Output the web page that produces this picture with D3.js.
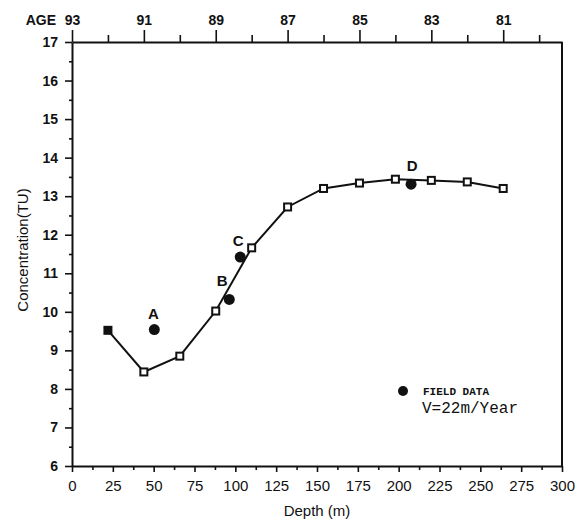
<!DOCTYPE html>
<html>
<head>
<meta charset="utf-8">
<script src="https://cdn.jsdelivr.net/npm/d3@7"></script>
<style>
  body { margin: 0; background: #fff; }
  svg text { font-family: "Liberation Sans", Arial, sans-serif; fill: #111; }
</style>
</head>
<body>
<svg width="583" height="526"></svg>
<script>
// model curve, one point per year (V = 22 m/year)
var modelDepth = [22, 44, 66, 88, 110, 132, 154, 176, 198, 220, 242, 264];
var modelConc = [9.52, 8.44, 8.85, 10.02, 11.66, 12.72, 13.2, 13.34, 13.44, 13.41, 13.37, 13.2];

// field samples
var fieldLabel = ["A", "B", "C", "D"];
var fieldDepth = [50.4, 96.3, 103, 207.6];
var fieldConc = [9.54, 10.32, 11.42, 13.31];

var xTicks = [0, 25, 50, 75, 100, 125, 150, 175, 200, 225, 250, 275, 300];
var yTicks = [6, 7, 8, 9, 10, 11, 12, 13, 14, 15, 16, 17];
var ageTicks = [93, 91, 89, 87, 85, 83, 81];
var ageMinor = [92, 90, 88, 86, 84, 82, 80];

var svg = d3.select("svg"),
    mLeft = 72, mRight = 562, mTop = 42, mBottom = 466;

var x = d3.scaleLinear().domain([0, 300]).range([mLeft, mRight]);
var y = d3.scaleLinear().domain([6, 17]).range([mBottom, mTop]);
// age at depth 0 is 93, one year per 22 m
var age = d3.scaleLinear().domain([93, 93 - 300 / 22]).range([mLeft, mRight]);

function styleAxis(g) {
  g.selectAll("path, line").attr("stroke", "#111").attr("stroke-width", 1.6);
  g.select(".domain").attr("stroke-width", 2);
  g.selectAll("text").attr("font-size", 14).attr("font-weight", "bold").attr("fill", "#111");
}

// minor ticks first
svg.append("g").attr("transform", "translate(0," + mBottom + ")")
    .call(d3.axisBottom(x).tickValues(d3.range(12.5, 300, 25)).tickSize(4).tickFormat(""))
    .call(styleAxis).select(".domain").remove();
svg.append("g").attr("transform", "translate(" + mLeft + ",0)")
    .call(d3.axisLeft(y).tickValues(d3.range(6.5, 17, 1)).tickSize(3).tickFormat(""))
    .call(styleAxis).select(".domain").remove();
svg.append("g").attr("transform", "translate(0," + mTop + ")")
    .call(d3.axisTop(age).tickValues(ageMinor).tickSize(7).tickFormat(""))
    .call(styleAxis).select(".domain").remove();

// major ticks
var xAxis = svg.append("g").attr("transform", "translate(0," + mBottom + ")")
    .call(d3.axisBottom(x).tickValues(xTicks).tickSize(6).tickSizeOuter(0).tickPadding(8))
    .call(styleAxis);
xAxis.selectAll("text").attr("font-weight", "normal").attr("font-size", 15);

svg.append("g").attr("transform", "translate(" + mLeft + ",0)")
    .call(d3.axisLeft(y).tickValues(yTicks).tickSize(7).tickSizeOuter(0).tickPadding(7))
    .call(styleAxis);

svg.append("g").attr("transform", "translate(0," + mTop + ")")
    .call(d3.axisTop(age).tickValues(ageTicks).tickSize(12).tickSizeOuter(0).tickPadding(5))
    .call(styleAxis);

// right frame
svg.append("line")
    .attr("x1", mRight).attr("x2", mRight).attr("y1", mTop).attr("y2", mBottom)
    .attr("stroke", "#111").attr("stroke-width", 2);

svg.append("text").attr("x", 56).attr("y", 25).attr("text-anchor", "end")
    .attr("font-size", 14).attr("font-weight", "bold").text("AGE");

svg.append("text").attr("x", (mLeft + mRight) / 2).attr("y", 516).attr("text-anchor", "middle")
    .attr("font-size", 15).text("Depth (m)");

svg.append("text").attr("transform", "translate(28,250) rotate(-90)").attr("text-anchor", "middle")
    .attr("font-size", 15).text("Concentration(TU)");

// model line
var model = modelDepth.map((d, i) => ({depth: d, conc: modelConc[i]}));
svg.append("path").datum(model)
    .attr("fill", "none").attr("stroke", "#111").attr("stroke-width", 2)
    .attr("d", d3.line().x(d => x(d.depth)).y(d => y(d.conc)));

svg.append("g").selectAll("rect").data(model).join("rect")
    .attr("x", d => x(d.depth) - 3.5).attr("y", d => y(d.conc) - 3.5)
    .attr("width", 7).attr("height", 7)
    .attr("fill", (d, i) => i === 0 ? "#111" : "#fff")
    .attr("stroke", "#111").attr("stroke-width", 2);

// field data
var field = fieldDepth.map((d, i) => ({label: fieldLabel[i], depth: d, conc: fieldConc[i]}));
svg.append("g").selectAll("circle").data(field).join("circle")
    .attr("cx", d => x(d.depth)).attr("cy", d => y(d.conc)).attr("r", 5.5)
    .attr("fill", "#111");

var labelShift = {A: [-1, -11], B: [-7, -13], C: [-2, -11], D: [1, -13]};
svg.append("g").selectAll("text").data(field).join("text")
    .attr("x", d => x(d.depth) + labelShift[d.label][0])
    .attr("y", d => y(d.conc) + labelShift[d.label][1])
    .attr("text-anchor", "middle").attr("font-size", 15).attr("font-weight", "bold")
    .text(d => d.label);

// legend
svg.append("circle").attr("cx", 403).attr("cy", 391).attr("r", 5).attr("fill", "#111");
svg.append("text").attr("x", 423).attr("y", 395)
    .style("font-family", "'Liberation Mono', monospace").attr("font-size", 11).attr("font-weight", "bold")
    .text("FIELD DATA");
svg.append("text").attr("x", 422).attr("y", 413)
    .style("font-family", "'Liberation Mono', monospace").attr("font-size", 16)
    .text("V=22m/Year");
</script>
</body>
</html>
